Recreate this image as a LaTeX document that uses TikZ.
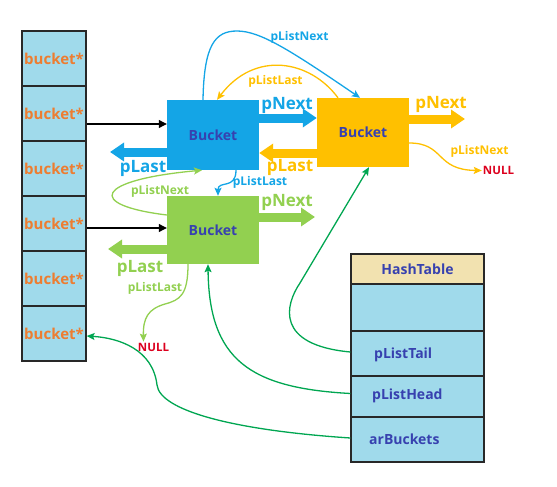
\documentclass[tikz,border=0pt]{standalone}
\usepackage{fontspec}
\setmainfont{Open Sans}
\usetikzlibrary{arrows.meta,calc}
\definecolor{cblue}{RGB}{20,165,230}
\definecolor{corange}{RGB}{255,192,0}
\definecolor{cgreen}{RGB}{146,208,80}
\definecolor{dgreen}{RGB}{0,166,81}
\definecolor{dblue}{RGB}{55,65,175}
\definecolor{bucktext}{RGB}{237,125,49}
\definecolor{cellfill}{RGB}{160,218,235}
\definecolor{hthead}{RGB}{242,226,176}
\definecolor{cellborder}{RGB}{40,40,40}
\definecolor{nullred}{RGB}{220,0,30}
\tikzset{
  cell/.style={draw=cellborder, line width=1.2pt, fill=cellfill, minimum width=64pt, minimum height=55pt, inner sep=0pt, text=bucktext, font=\fontsize{15}{15}\selectfont\bfseries},
  bucketbox/.style={minimum width=92pt, minimum height=70pt, inner sep=0pt, text=dblue, font=\fontsize{14}{14}\selectfont\bfseries},
  htcell/.style={draw=cellborder, line width=1.2pt, fill=cellfill, minimum width=133pt, inner sep=0pt, text=dblue, font=\fontsize{14}{14}\selectfont\bfseries},
  httext/.style={inner sep=0pt, text=dblue, font=\fontsize{14}{14}\selectfont\bfseries},
  biglabel/.style={inner sep=0pt, font=\fontsize{17}{17}\selectfont\bfseries},
  smalllabel/.style={inner sep=0pt, font=\fontsize{12}{12}\selectfont\bfseries},
  nulllabel/.style={inner sep=1pt, text=nullred, font=\fontsize{11.5}{11.5}\selectfont\bfseries},
  bigarrow/.style={line width=9pt, -{Triangle[width=18pt,length=14pt]}},
  thinarrow/.style={line width=1.3pt, -{Stealth[length=8pt,width=7pt,inset=1.5pt]}},
  blackarrow/.style={line width=1.1pt, black, -{Triangle[length=8pt,width=8pt]}}
}
\begin{document}
\begin{tikzpicture}[x=1pt,y=-1pt]
\useasboundingbox (0,0) rectangle (557,487);

% bucket array
\foreach \i in {1,...,6}
  \node[cell] (c\i) at (54, {58.5+55*(\i-1)}) {bucket*};

% bucket boxes
\node[bucketbox, fill=cblue] (blue) at (213,135) {Bucket};
\node[bucketbox, fill=corange, minimum height=69pt] (orange) at (363,132.5) {Bucket};
\node[bucketbox, fill=cgreen, minimum height=68pt] (green) at (213,230) {Bucket};

% hashtable
\node[htcell, fill=hthead, minimum height=30pt] (ht) at (417.5,269) {HashTable};
\node[htcell, minimum height=47pt] (h1) at (417.5,307.5) {};
\node[htcell, minimum height=45pt] (h2) at (417.5,353.5) {};
\node[htcell, minimum height=41pt] (h3) at (417.5,396.5) {};
\node[htcell, minimum height=45pt] (h4) at (417.5,439.5) {};
\node[httext, anchor=west] (tTail) at (374,355) {pListTail};
\node[httext, anchor=west] (tHead) at (372,396) {pListHead};
\node[httext, anchor=west] (tArb) at (369,439) {arBuckets};

% NULL nodes
\node[nulllabel] (nullG) at (153.5,347) {NULL};
\node[nulllabel] (nullO) at (498.5,170.5) {NULL};

% black arrows
\coordinate (a1) at ([yshift=-10.5pt]c2.east);
\draw[blackarrow] (a1) -- (a1 -| blue.west);
\coordinate (a2) at ([yshift=-4.5pt]c4.east);
\draw[blackarrow] (a2) -- (a2 -| green.west);

% thick arrows
\coordinate (bn) at ([yshift=17pt]blue.east);
\draw[bigarrow,cblue] (bn) -- (bn -| orange.west);
\coordinate (bl) at ([yshift=-17pt]blue.west);
\coordinate (blEnd) at (110,152);
\draw[bigarrow,cblue] (bl) -- (blEnd);
\coordinate (ol) at ([yshift=-20.5pt]orange.west);
\draw[bigarrow,corange] (ol) -- (ol -| blue.east);
\coordinate (on) at ([yshift=13.5pt]orange.east);
\coordinate (onEnd) at (465,119);
\draw[bigarrow,corange] (on) -- (onEnd);
\coordinate (gn) at ([yshift=13pt]green.east);
\coordinate (gnEnd) at (315,217);
\draw[bigarrow,cgreen] (gn) -- (gnEnd);
\coordinate (gl) at ([yshift=-19pt]green.west);
\coordinate (glEnd) at (108,249);
\draw[bigarrow,cgreen] (gl) -- (glEnd);

% big labels
\node[biglabel, text=cblue] (lbn) at (287,105) {pNext};
\node[biglabel, text=cblue] (lbl) at (143,168) {pLast};
\node[biglabel, text=corange] (lol) at (290,167) {pLast};
\node[biglabel, text=corange] (lon) at (441,104) {pNext};
\node[biglabel, text=cgreen] (lgn) at (287,202) {pNext};
\node[biglabel, text=cgreen] (lgl) at (140,268) {pLast};

% thin curves
\draw[thinarrow,cblue] ([xshift=-10pt]blue.north) .. controls (204,45) and (215,31) .. (237,31) .. controls (260,31) and (290,50) .. ([xshift=-3pt]orange.north);
\draw[thinarrow,corange] ([xshift=-25pt]orange.north) .. controls (310,60) and (255,50) .. ([xshift=4pt]blue.north);
\draw[thinarrow,cblue] ([xshift=23pt]blue.south) .. controls (236,190) and (218,180) .. ([xshift=5pt]green.north);
\draw[thinarrow,cgreen] ([yshift=15pt]green.west) .. controls (85,205) and (95,180) .. ([xshift=-11pt]blue.south);
\draw[thinarrow,cgreen] ([xshift=-25pt]green.south) .. controls (188,295) and (180,300) .. (165,304) .. controls (148,309) and (143,318) .. ([xshift=-10pt]nullG.north);
\draw[thinarrow,corange] ([yshift=-10.5pt]orange.east) .. controls (445,143) and (435,170) .. (nullO.west);

% small labels
\node[smalllabel, text=cblue] (lpn1) at (299.5,37) {pListNext};
\node[smalllabel, text=corange] (lpl1) at (275.5,81) {pListLast};
\node[smalllabel, text=cblue] (lpl2) at (260,182) {pListLast};
\node[smalllabel, text=cgreen] (lpn2) at (160,191) {pListNext};
\node[smalllabel, text=cgreen] (lpl3) at (155,288) {pListLast};
\node[smalllabel, text=corange] (lpn3) at (479.5,151) {pListNext};

% hashtable pointers
\draw[thinarrow,dgreen] ([yshift=1.5pt]h2.west) .. controls (275,345) and (285,305) .. (300,283) -- ([xshift=6pt]orange.south);
\draw[thinarrow,dgreen] ([yshift=3pt]h3.west) .. controls (250,388) and (209,360) .. ([xshift=-5pt]green.south);
\draw[thinarrow,dgreen] ([yshift=1.5pt]h4.west) .. controls (230,430) and (160,410) .. (157,385) .. controls (153,350) and (120,338) .. ([yshift=-2.5pt]c6.east);
\end{tikzpicture}
\end{document}
